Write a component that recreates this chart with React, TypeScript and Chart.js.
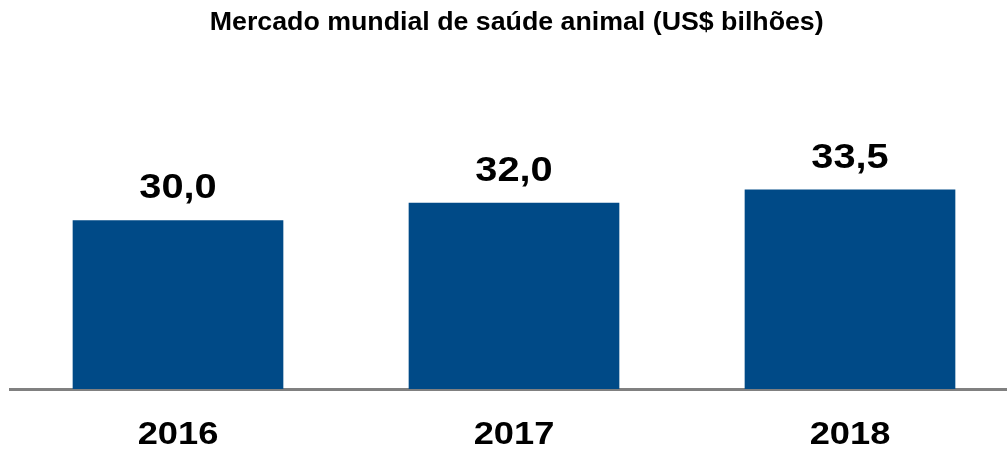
import React, { useEffect, useRef } from "react";
import { Chart, registerables } from "chart.js";

Chart.register(...registerables);

const TITLE = "Mercado mundial de saúde animal (US$ bilhões)";
const categories = ["2016", "2017", "2018"];
const values = [30.0, 32.0, 33.5];

const BAR_COLOR = "#004a87";
const FONT = "'Liberation Sans', Arial, Helvetica, sans-serif";

const fmt = (v: number) => v.toFixed(1).replace(".", ",");

function drawStretched(
  ctx: CanvasRenderingContext2D,
  text: string,
  x: number,
  y: number,
  size: number,
  sx: number
) {
  ctx.save();
  ctx.translate(x, y);
  ctx.scale(sx, 1);
  ctx.font = `bold ${size}px ${FONT}`;
  ctx.fillStyle = "#000";
  ctx.textAlign = "center";
  ctx.textBaseline = "alphabetic";
  ctx.fillText(text, 0, 0);
  ctx.restore();
}

const textPlugin = {
  id: "textPlugin",
  afterDraw(chart: any) {
    const ctx = chart.ctx as CanvasRenderingContext2D;
    const xScale = chart.scales.x;
    const meta = chart.getDatasetMeta(0);
    // title
    drawStretched(ctx, TITLE, 516.7, 30, 25, 1.07);
    // value labels and year labels
    meta.data.forEach((bar: any, i: number) => {
      drawStretched(ctx, fmt(values[i]), bar.x, bar.y - 22, 35.5, 1.12);
      const cx = xScale.getPixelForValue(i);
      drawStretched(ctx, categories[i], cx, 444, 31, 1.17);
    });
  },
};

export default function App() {
  const ref = useRef<HTMLCanvasElement | null>(null);

  useEffect(() => {
    if (!ref.current) return;
    const chart = new Chart(ref.current, {
      type: "bar",
      data: {
        labels: categories,
        datasets: [
          {
            data: values,
            backgroundColor: BAR_COLOR,
            borderWidth: 0,
            barPercentage: 0.627,
            categoryPercentage: 1,
          },
        ],
      },
      options: {
        responsive: false,
        animation: false,
        layout: { padding: { left: 10, right: 2, top: 100, bottom: 61 } },
        plugins: {
          legend: { display: false },
          title: { display: false },
          tooltip: { enabled: false },
        },
        scales: {
          x: {
            z: 1,
            grid: { display: false, drawTicks: false },
            border: { display: true, color: "#808080", width: 3 },
            ticks: { display: false },
          },
          y: {
            display: false,
            min: 10.76,
            max: 43.71,
          },
        },
      },
      plugins: [textPlugin],
    });
    return () => chart.destroy();
  }, []);

  return (
    <div
      style={{
        position: "absolute",
        left: 0,
        top: 0,
        width: 1007,
        height: 450,
        overflow: "hidden",
        background: "#fff",
      }}
    >
      <canvas ref={ref} width={1020} height={450} style={{ display: "block" }} />
    </div>
  );
}
